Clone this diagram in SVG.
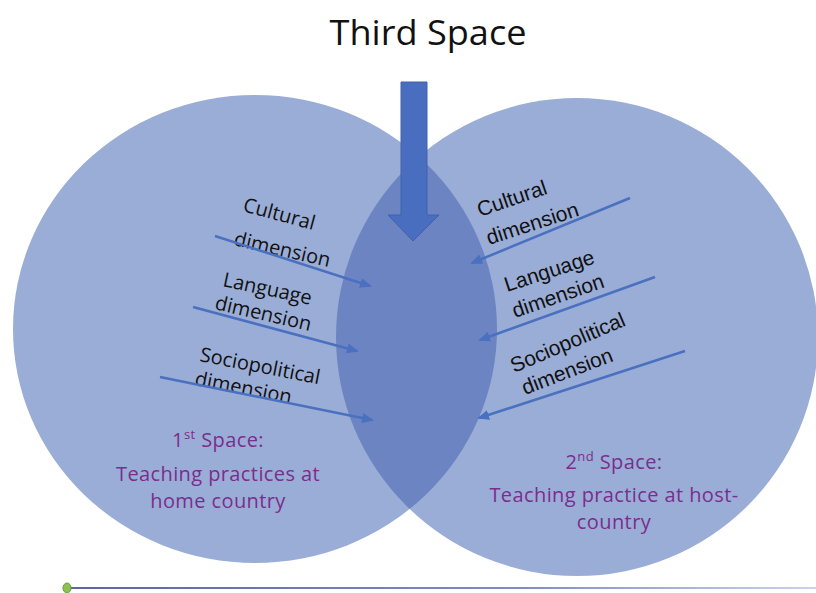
<svg xmlns="http://www.w3.org/2000/svg" width="816" height="593" viewBox="0 0 816 593">
  <defs>
    <style>
      .circle { fill: #9aadd6; }
      .lens { fill: #6c85c2; }
      .dim { font-family: "Open Sans", "Liberation Sans", sans-serif; font-size: 20px; fill: #111111; }
      .dimr { font-family: "Liberation Sans", Arial, sans-serif; font-size: 21px; fill: #111111; }
      .space { font-family: "Open Sans", "Noto Sans", sans-serif; font-size: 20px; letter-spacing: 0.4px; fill: #7b2d8e; text-anchor: middle; }
      .title { font-family: "Open Sans", "Noto Sans", sans-serif; font-size: 34px; fill: #111111; text-anchor: middle; }
      .conn { stroke: #4a70c0; stroke-width: 2.5; fill: none; marker-end: url(#head); }
    </style>
    <marker id="head" markerWidth="12" markerHeight="10" refX="10" refY="5" orient="auto" markerUnits="userSpaceOnUse">
      <path d="M0,0 L12,5 L0,10 Z" fill="#4a70c0"/>
    </marker>
    <clipPath id="leftClip">
      <ellipse cx="255" cy="329" rx="242" ry="234"/>
    </clipPath>
    <linearGradient id="baseLine" x1="0" y1="0" x2="1" y2="0">
      <stop offset="0" stop-color="#5a66a6"/>
      <stop offset="0.6" stop-color="#7f8cc0"/>
      <stop offset="1" stop-color="#c9d2ec"/>
    </linearGradient>
  </defs>

  <rect x="0" y="0" width="816" height="593" fill="#ffffff"/>

  <g id="space1">
    <ellipse class="circle" cx="255" cy="329" rx="242" ry="234"/>
  </g>
  <g id="space2">
    <ellipse class="circle" cx="577" cy="337" rx="241" ry="239"/>
  </g>
  <g id="space3-overlap">
    <ellipse class="lens" cx="577" cy="337" rx="241" ry="239" clip-path="url(#leftClip)"/>
  </g>

  <g id="title">
    <text class="title" x="428" y="45" textLength="197" lengthAdjust="spacingAndGlyphs">Third Space</text>
  </g>

  <g id="third-space-arrow">
    <path d="M401,82 L427,82 L427,215 L439,215 L413,241 L388,215 L401,215 Z" fill="#4a6ebf" stroke="#3e60ad" stroke-width="1"/>
  </g>

  <g id="left-labels">
    <g id="left-cultural">
      <text class="dim" transform="translate(242,211) rotate(15)">Cultural</text>
      <text class="dim" transform="translate(233,245) rotate(13)">dimension</text>
    </g>
    <g id="left-language">
      <text class="dim" transform="translate(222,286) rotate(12)">Language</text>
      <text class="dim" transform="translate(214,309) rotate(13)">dimension</text>
    </g>
    <g id="left-sociopolitical">
      <text class="dim" transform="translate(199,361) rotate(11)">Sociopolitical</text>
      <text class="dim" transform="translate(194,385) rotate(11)">dimension</text>
    </g>
  </g>

  <g id="right-labels">
    <g id="right-cultural">
      <text class="dimr" transform="translate(480,217) rotate(-19)">Cultural</text>
      <text class="dimr" transform="translate(489,245) rotate(-18)">dimension</text>
    </g>
    <g id="right-language">
      <text class="dimr" transform="translate(507,292) rotate(-18)">Language</text>
      <text class="dimr" transform="translate(515,318) rotate(-19)">dimension</text>
    </g>
    <g id="right-sociopolitical">
      <text class="dimr" transform="translate(514,373) rotate(-23)">Sociopolitical</text>
      <text class="dimr" transform="translate(525,395) rotate(-21)">dimension</text>
    </g>
  </g>

  <g id="connectors">
    <line class="conn" x1="215" y1="236" x2="370" y2="286"/>
    <line class="conn" x1="193" y1="307" x2="357" y2="351"/>
    <line class="conn" x1="160" y1="377" x2="372" y2="420"/>
    <line class="conn" x1="630" y1="198" x2="472" y2="263"/>
    <line class="conn" x1="655" y1="277" x2="480" y2="340"/>
    <line class="conn" x1="685" y1="351" x2="479" y2="418"/>
  </g>

  <g id="first-space-label">
    <text class="space" x="218" y="447">1<tspan font-size="13" dy="-8">st</tspan><tspan dy="8"> Space:</tspan></text>
    <text class="space" x="218" y="481">Teaching practices at</text>
    <text class="space" x="218" y="508">home country</text>
  </g>

  <g id="second-space-label">
    <text class="space" x="614" y="469">2<tspan font-size="13" dy="-8">nd</tspan><tspan dy="8"> Space:</tspan></text>
    <text class="space" x="614" y="502">Teaching practice at host-</text>
    <text class="space" x="614" y="529">country</text>
  </g>

  <g id="baseline">
    <rect x="67" y="587" width="749" height="2" fill="url(#baseLine)"/>
    <ellipse cx="67" cy="588" rx="4" ry="5" fill="#8cc152" stroke="#6b9a3c" stroke-width="1"/>
  </g>
</svg>
